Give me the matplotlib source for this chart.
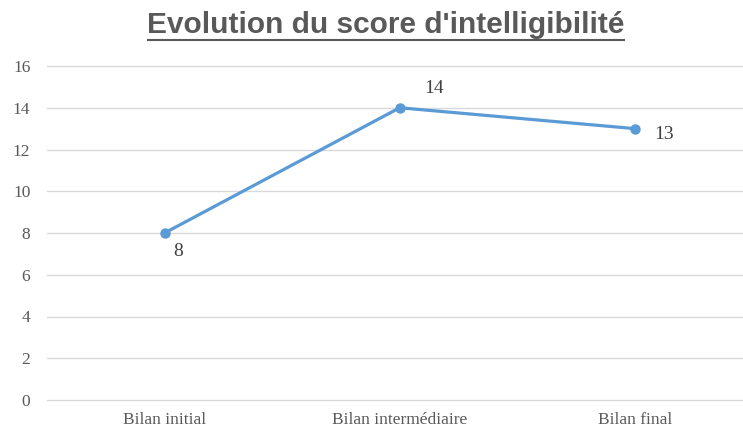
import matplotlib.pyplot as plt

categories = ["Bilan initial", "Bilan intermédiaire", "Bilan final"]
scores = [8, 14, 13]
label_offsets = [(10, -13), (25, 14), (21, -4)]

fig = plt.figure(figsize=(7.43, 4.32), dpi=100)
ax = fig.add_axes([47 / 743, 32 / 432, 1 - 47 / 743, 334 / 432])

x = list(range(len(categories)))
ax.plot(x, scores, color="#5b9bd5", lw=2.3, marker="o", ms=6.5, zorder=3)

for xi, s, off in zip(x, scores, label_offsets):
    ax.annotate(str(s), (xi, s), xytext=off, textcoords="offset points",
                ha="center", va="center", fontsize=14, color="#404040",
                family="Liberation Serif")

ax.set_ylim(0, 16)
ax.set_yticks(range(0, 17, 2))
ax.set_xlim(-0.5, 2.46)
ax.set_xticks(x)
ax.set_xticklabels(categories)
ax.grid(axis="y", color="#d9d9d9", lw=1)
for gl in ax.get_ygridlines():
    gl.set_clip_on(False)
ax.set_axisbelow(True)
for sp in ax.spines.values():
    sp.set_visible(False)
ax.tick_params(length=0, labelsize=12.5, labelcolor="#595959")
ax.tick_params(axis="x", pad=9)
ax.tick_params(axis="y", pad=12)
for lab in ax.get_xticklabels() + ax.get_yticklabels():
    lab.set_family("Liberation Serif")

fig.text(386 / 743, 1 - 33 / 432, "Evolution du score d'intelligibilité",
         ha="center", va="baseline", fontsize=21.5, fontweight="bold",
         color="#595959", family="Liberation Sans")
fig.add_artist(plt.Line2D([148 / 743, 624 / 743], [1 - 39.5 / 432, 1 - 39.5 / 432],
                          color="#595959", lw=1.5))

fig.savefig("out.png", dpi=100)
